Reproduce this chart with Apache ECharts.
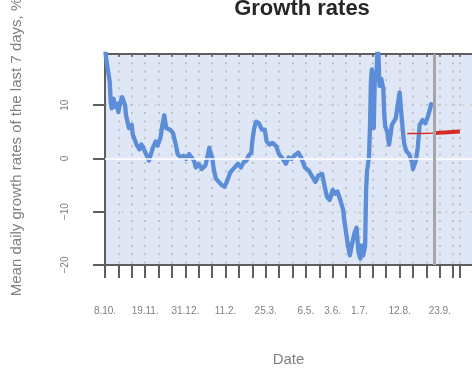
<!DOCTYPE html>
<html>
<head>
<meta charset="utf-8">
<script src="https://cdn.jsdelivr.net/npm/echarts@6/dist/echarts.min.js"></script>
<style>
  html, body { margin: 0; padding: 0; background: #fff; }
  #chart { width: 472px; height: 372px; }
</style>
</head>
<body>
<div id="chart"></div>
<script>
// day offsets are counted from 8.10.2020
const startDate = [2020, 9, 8];

const days = [
  0, 1, 3, 5, 6, 7, 9, 10, 12, 14,
  16, 18, 21, 22, 25, 28, 29, 33, 36, 38,
  40, 43, 46, 48, 50, 53, 55, 58, 60, 62,
  64, 68, 71, 74, 76, 79, 82, 85, 88, 90,
  93, 95, 98, 101, 105, 107, 109, 112, 114, 116,
  118, 122, 125, 128, 131, 134, 136, 139, 142, 145,
  148, 150, 153, 154, 156, 158, 161, 164, 167, 169,
  172, 175, 179, 182, 186, 189, 192, 195, 198, 202,
  205, 209, 213, 216, 220, 223, 227, 229, 232, 235,
  238, 241, 243, 246, 249, 250, 252, 254, 256, 258,
  261, 263, 265, 267, 268, 270, 272, 273, 274, 276,
  277, 278, 279, 280, 281, 282, 284, 285, 286, 287,
  289, 291, 292, 293, 295, 297, 300, 304, 306, 308,
  310, 312, 313, 315, 318, 321, 322, 325, 327, 329,
  332, 335, 338, 340, 341
];
const rates = [
  21, 19, 16.7, 14.3, 10.6, 9.4, 11.2, 9.7, 10.3, 8.7,
  10.6, 11.5, 10.0, 8.1, 5.7, 6.3, 4.5, 2.6, 1.7, 2.6,
  2.0, 0.8, -0.4, 0.8, 2.0, 3.2, 2.4, 3.9, 6.3, 8.1,
  5.7, 5.4, 4.8, 2.6, 0.8, 0.2, 0.5, -0.1, 0.8, 0.8,
  -0.4, -1.7, -1.0, -2.0, -1.3, 0.2, 2.0, 0.2, -2.3, -3.8,
  -4.1, -5.0, -5.3, -4.1, -2.6, -2.0, -1.7, -1.0, -1.7, -0.7,
  -0.4, 0.5, 1.1, 3.2, 5.7, 6.9, 6.6, 5.4, 5.4, 3.2,
  2.6, 2.9, 2.3, 0.8, -0.1, -1.0, 0.2, -0.1, 0.5, 1.1,
  0.2, -1.7, -2.3, -3.2, -4.4, -3.2, -2.9, -4.7, -7.2, -7.8,
  -5.9, -6.6, -6.2, -7.8, -9.6, -11.4, -13.9, -16.3, -18.2, -16.3,
  -13.9, -13.0, -17.6, -18.8, -16.3, -18.2, -16.3, -5.9, -2.3, 0.2,
  5.7, 14.3, 16.7, 8.1, 5.7, 14.3, 16.7, 21, 19.1, 13.6,
  14.9, 13.0, 8.1, 6.0, 5.0, 2.6, 6.3, 7.5, 10.0, 12.4,
  8.1, 4.0, 2.6, 1.4, 0.8, -0.7, -2.0, -0.4, 2.0, 6.3,
  7.2, 6.6, 8.1, 9.4, 10.2
];

// red trend line, thin before the cut day, thick after it
const trendDays = [316, 330, 344, 358, 371];
const trendRates = [4.7, 4.7, 4.75, 4.9, 5.05];
const cutDay = 344;

const xTickDays = [0, 14, 28, 42, 56, 70, 84, 98, 112, 126, 140, 154, 168, 182, 196,
  210, 224, 238, 252, 266, 280, 294, 308, 322, 336, 350, 364, 371];
const xLabelDays = [0, 42, 84, 126, 168, 210, 238, 266, 308, 350];
const yTicks = [-20, -10, 0, 10];

const dayLabel = d => {
  const dt = new Date(startDate[0], startDate[1], startDate[2] + d);
  return dt.getDate() + '.' + (dt.getMonth() + 1) + '.';
};

const pairs = (xs, ys) => xs.map((x, i) => [x, ys[i]]);
const trend = pairs(trendDays, trendRates);

const axisGray = '#5f5f5f';
const textGray = '#808080';

const myChart = echarts.init(document.getElementById('chart'));
myChart.setOption({
  animation: false,
  grid: {
    left: 105, top: 54, width: 371, height: 216,
    show: true, backgroundColor: '#dfe7f7', borderWidth: 0
  },
  graphic: [
    {
      type: 'text', x: 302, y: 9,
      style: {
        text: 'Growth rates', fill: '#262626',
        font: 'bold 22px "Liberation Sans", Arial, sans-serif',
        textAlign: 'center', textVerticalAlign: 'middle'
      }
    },
    {
      type: 'text', x: 17, y: 147, rotation: Math.PI / 2,
      style: {
        text: 'Mean daily growth rates of the last 7 days, %', fill: textGray,
        font: '15px "Liberation Sans", Arial, sans-serif',
        textAlign: 'center', textVerticalAlign: 'middle'
      }
    }
  ],
  xAxis: [
    {
      type: 'value', min: 0, max: 383.7, interval: 14,
      name: 'Date', nameLocation: 'middle', nameGap: 87,
      nameTextStyle: { color: textGray, fontSize: 15, fontFamily: 'Liberation Sans' },
      axisLine: { show: true, onZero: false, lineStyle: { color: axisGray, width: 2 } },
      axisTick: { show: true, customValues: xTickDays, length: 13, lineStyle: { color: axisGray, width: 2 } },
      axisLabel: {
        customValues: xLabelDays, margin: 41, fontSize: 10, color: textGray,
        fontFamily: 'Liberation Sans', formatter: v => dayLabel(v)
      },
      splitLine: { show: true, lineStyle: { color: '#b9b9b9', width: 1.6, type: [2, 6.3] } }
    },
    {
      type: 'value', position: 'top', min: 0, max: 383.7, interval: 14,
      axisLine: { show: true, onZero: false, lineStyle: { color: axisGray, width: 2 } },
      axisTick: { show: true, inside: true, customValues: xTickDays, length: 3, lineStyle: { color: axisGray, width: 1.5 } },
      axisLabel: { show: false },
      splitLine: { show: false }
    }
  ],
  yAxis: {
    type: 'value', min: -20, max: 19.6, interval: 10,
    axisLine: { show: true, onZero: false, lineStyle: { color: axisGray, width: 2 } },
    axisTick: { show: true, customValues: yTicks, length: 12, lineStyle: { color: axisGray, width: 2 } },
    axisLabel: {
      customValues: yTicks, rotate: 90, margin: 35, fontSize: 10, color: textGray,
      fontFamily: 'Liberation Sans',
      formatter: v => (v < 0 ? '\u2212' + (-v) : '' + v)
    },
    splitLine: {
      show: true,
      lineStyle: { color: ['rgba(0,0,0,0)', '#cdcdcd', 'rgba(0,0,0,0)', '#cdcdcd', 'rgba(0,0,0,0)'], width: 1.5, type: [2, 6.3] }
    }
  },
  series: [
    {
      type: 'line', data: [], z: 1, silent: true,
      markLine: {
        silent: true, symbol: 'none', label: { show: false },
        data: [
          { yAxis: 0, lineStyle: { color: '#ffffff', width: 1.5, type: 'solid' } },
          { xAxis: cutDay, lineStyle: { color: '#a6a6a6', width: 3, type: 'solid' } }
        ]
      }
    },
    {
      type: 'line', data: pairs(days, rates), showSymbol: false, z: 3,
      lineStyle: { color: '#5b8dd8', width: 4.3, join: 'round', cap: 'round' }
    },
    {
      type: 'line', data: trend.filter(p => p[0] <= cutDay), showSymbol: false, z: 3,
      lineStyle: { color: '#d42a2a', width: 1.5 }
    },
    {
      type: 'line', data: trend.filter(p => p[0] >= cutDay), showSymbol: false, z: 3,
      lineStyle: { color: '#d42a2a', width: 4 }
    }
  ]
});

window.addEventListener('resize', () => { myChart.resize(); });
</script>
</body>
</html>
